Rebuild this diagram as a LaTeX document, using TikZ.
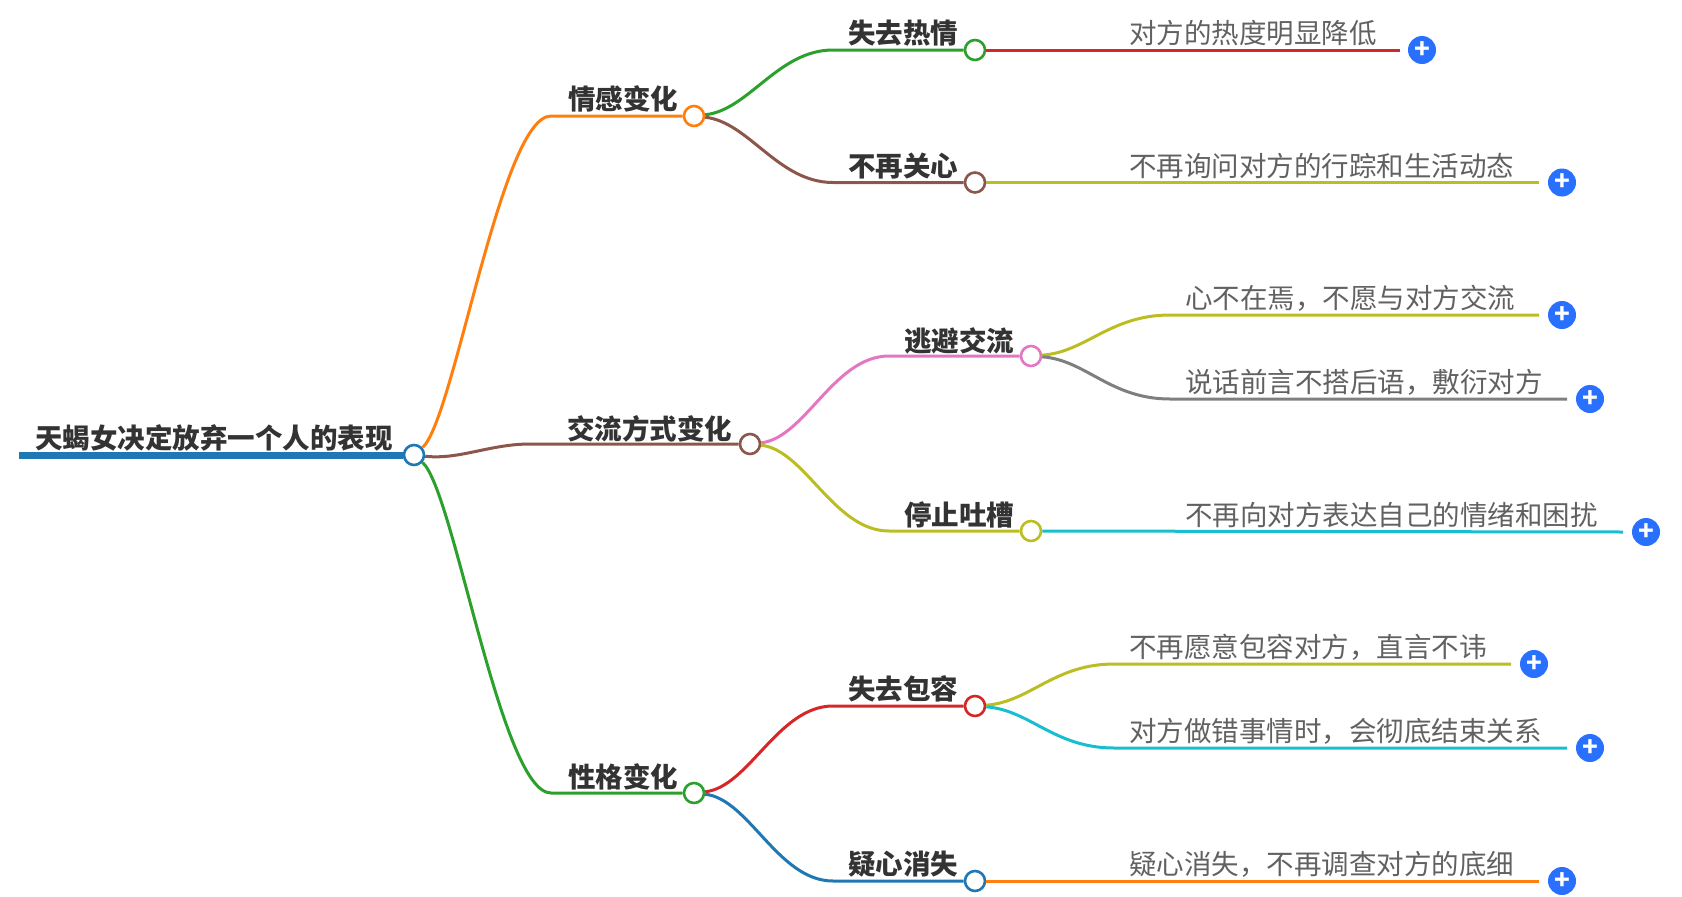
\documentclass[tikz,border=0pt]{standalone}
\usepackage{fontspec}
\setmainfont{Noto Sans CJK SC}
\definecolor{tO}{HTML}{FF7F0E}
\definecolor{tB}{HTML}{1F77B4}
\definecolor{tG}{HTML}{2CA02C}
\definecolor{tR}{HTML}{D62728}
\definecolor{tN}{HTML}{8C564B}
\definecolor{tP}{HTML}{E377C2}
\definecolor{tY}{HTML}{7F7F7F}
\definecolor{tL}{HTML}{BCBD22}
\definecolor{tC}{HTML}{17BECF}
\definecolor{plusblue}{HTML}{2970FF}
\tikzset{
  x=1pt,y=-1pt,
  dot/.style={circle,draw=#1,fill=white,line width=2.6pt,minimum size=20pt,inner sep=0pt},
  head/.style={anchor=west,inner sep=0pt,text=black!80,font=\fontsize{27.5}{30}\selectfont\bfseries},
  leaf/.style={anchor=west,inner sep=0pt,text=black!62,font=\fontsize{27.5}{30}\selectfont},
  plus/.style={circle,fill=plusblue,minimum size=28pt,inner sep=0pt,text=white,font=\fontsize{26}{26}\selectfont\bfseries},
  edge/.style={draw=#1,line width=3pt},
}
\begin{document}
\begin{tikzpicture}
\useasboundingbox (0,0) rectangle (1682,897);
% dots
\node[dot=tB] (root) at (414,455) {};
\node[dot=tO] (a) at (694,116) {};
\node[dot=tN] (b) at (750,444) {};
\node[dot=tG] (c) at (694,793) {};
\node[dot=tG] (a1) at (975,50) {};
\node[dot=tN] (a2) at (975,182.5) {};
\node[dot=tP] (b1) at (1031,356) {};
\node[dot=tL] (b2) at (1031,531) {};
\node[dot=tR] (c1) at (975,706) {};
\node[dot=tB] (c2) at (975,881) {};
% plus buttons
\node[plus] (p1) at (1422,50) {+};
\node[plus] (p2) at (1562,182.5) {+};
\node[plus] (p3) at (1562,315) {+};
\node[plus] (p4) at (1590,399) {+};
\node[plus] (p5) at (1646,532) {+};
\node[plus] (p6) at (1534,664) {+};
\node[plus] (p7) at (1590,748) {+};
\node[plus] (p8) at (1562,881) {+};
% free ends
\coordinate (r0) at (19,455);
\coordinate (ka) at (551,116);
\coordinate (kb) at (530,444);
\coordinate (kc) at (551,793);
\coordinate (ka1) at (833,50);
\coordinate (ka2) at (833,182.5);
\coordinate (kb1) at (889,356);
\coordinate (kb2) at (889,531);
\coordinate (kc1) at (833,706);
\coordinate (kc2) at (833,881);
\coordinate (kb11) at (1170,315);
\coordinate (kb12) at (1170,399);
\coordinate (kc11) at (1114,664);
\coordinate (kc12) at (1114,748);
\coordinate (e1) at (1400,50);
\coordinate (e2) at (1539,182.5);
\coordinate (e3) at (1539,315);
\coordinate (e4) at (1567,399);
\coordinate (e5) at (1623,532);
\coordinate (e6) at (1511,664);
\coordinate (e7) at (1567,748);
\coordinate (e8) at (1539,881);
% root
\draw[draw=tB,line width=7pt] (r0) -- (root);
\draw[edge=tO] (root) .. controls +(40,-35) and +(-50,0) .. (ka) -- (a);
\draw[edge=tN] (root) .. controls +(45,5) and +(-40,0) .. (kb) -- (b);
\draw[edge=tG] (root) .. controls +(40,35) and +(-50,0) .. (kc) -- (c);
% level 2
\draw[edge=tG] (a) .. controls +(55,-6) and +(-55,0) .. (ka1) -- (a1);
\draw[edge=tN] (a) .. controls +(55,6) and +(-55,0) .. (ka2) -- (a2);
\draw[edge=tP] (b) .. controls +(55,-6) and +(-55,0) .. (kb1) -- (b1);
\draw[edge=tL] (b) .. controls +(55,6) and +(-55,0) .. (kb2) -- (b2);
\draw[edge=tR] (c) .. controls +(55,-6) and +(-55,0) .. (kc1) -- (c1);
\draw[edge=tB] (c) .. controls +(55,6) and +(-55,0) .. (kc2) -- (c2);
% level 3
\draw[edge=tR] (a1) -- (e1);
\draw[edge=tL] (a2) -- (e2);
\draw[edge=tL] (b1) .. controls +(55,-4) and +(-60,0) .. (kb11) -- (e3);
\draw[edge=tY] (b1) .. controls +(55,4) and +(-60,0) .. (kb12) -- (e4);
\draw[edge=tC] (b2) -- (e5);
\draw[edge=tL] (c1) .. controls +(55,-4) and +(-60,0) .. (kc11) -- (e6);
\draw[edge=tC] (c1) .. controls +(55,4) and +(-60,0) .. (kc12) -- (e7);
\draw[edge=tO] (c2) -- (e8);
% labels
\node[head] (t0) at (35,438) {天蝎女决定放弃一个人的表现};
\node[head] (ta) at (568,99) {情感变化};
\node[head] (tb) at (567,429) {交流方式变化};
\node[head] (tc) at (568,777) {性格变化};
\node[head] (ta1) at (848,33) {失去热情};
\node[head] (ta2) at (848,166) {不再关心};
\node[head] (tb1) at (904,341) {逃避交流};
\node[head] (tb2) at (904,515) {停止吐槽};
\node[head] (tc1) at (848,689) {失去包容};
\node[head] (tc2) at (848,864) {疑心消失};
\node[leaf] (l1) at (1129,33) {对方的热度明显降低};
\node[leaf] (l2) at (1129,166) {不再询问对方的行踪和生活动态};
\node[leaf] (l3) at (1185,298) {心不在焉，不愿与对方交流};
\node[leaf] (l4) at (1185,382) {说话前言不搭后语，敷衍对方};
\node[leaf] (l5) at (1185,515) {不再向对方表达自己的情绪和困扰};
\node[leaf] (l6) at (1129,647) {不再愿意包容对方，直言不讳};
\node[leaf] (l7) at (1129,731) {对方做错事情时，会彻底结束关系};
\node[leaf] (l8) at (1129,864) {疑心消失，不再调查对方的底细};
\end{tikzpicture}
\end{document}
